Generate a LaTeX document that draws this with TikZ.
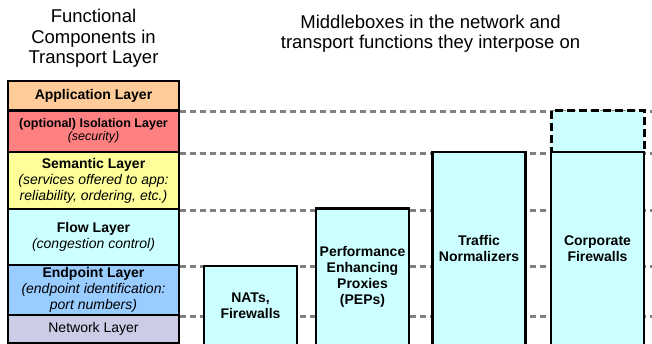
\documentclass[tikz,border=0pt]{standalone}
\usepackage{fontspec}
\setmainfont{Liberation Sans}
\definecolor{appc}{RGB}{255,204,153}
\definecolor{isoc}{RGB}{255,128,128}
\definecolor{semc}{RGB}{255,255,153}
\definecolor{flowc}{RGB}{204,255,255}
\definecolor{endc}{RGB}{153,204,255}
\definecolor{netc}{RGB}{204,204,230}
\definecolor{boxcyan}{RGB}{204,255,255}
\definecolor{guidegray}{RGB}{128,128,128}
\begin{document}
\begin{tikzpicture}[x=1pt,y=-1pt,
  layer/.style={draw=black, line width=2.2pt, minimum width=171pt, inner sep=0pt,
    align=center, font=\fontsize{14}{16}\selectfont},
  mbox/.style={draw=black, line width=2.4pt, fill=boxcyan, minimum width=93pt,
    inner sep=0pt, align=center, font=\bfseries\fontsize{14}{16}\selectfont},
  optbox/.style={draw=black, line width=3pt, dash pattern=on 8pt off 4pt,
    fill=boxcyan, minimum width=93pt, inner sep=0pt},
  guide/.style={draw=guidegray, line width=3pt, dash pattern=on 6pt off 4pt},
  heading/.style={align=center, font=\fontsize{18.5}{20.5}\selectfont}]
\clip (0,0) rectangle (652,343);
\coordinate (rightedge) at (652,0);

% headings
\node[heading] (lefthead) at (93.5,38.7) {Functional\\Components in\\Transport Layer};
\node[heading] (righthead) at (430.5,33.7) {Middleboxes in the network and\\transport functions they interpose on};

% transport layer stack
\node[layer, fill=appc, minimum height=29.5pt] (app) at (93.5,95.75) {\textbf{Application Layer}};
\node[layer, fill=isoc, minimum height=41.5pt, font=\fontsize{12.5}{13}\selectfont] (iso) at (93.5,131.25)
  {\textbf{(optional) Isolation Layer}\\\textit{(security)}};
\node[layer, fill=semc, minimum height=57pt] (sem) at (93.5,180.5)
  {\textbf{Semantic Layer}\\\textit{(services offered to app:}\\\textit{reliability, ordering, etc.)}};
\node[layer, fill=flowc, minimum height=56pt] (flow) at (93.5,237)
  {\textbf{Flow Layer}\\\textit{(congestion control)}};
\node[layer, fill=endc, minimum height=50pt] (endp) at (93.5,290)
  {\textbf{Endpoint Layer}\\\textit{(endpoint identification:}\\\textit{port numbers)}};
\node[layer, fill=netc, minimum height=28pt] (net) at (93.5,329) {Network Layer};

% layer boundaries carried across the figure
\foreach \l in {app,iso,sem,flow,endp}
  \draw[guide] (\l.south east) -- (\l.south east -| rightedge);

% middleboxes
\node[mbox, minimum height=79pt] (nat) at (250.5,305.5) {NATs,\\Firewalls};
\node[mbox, minimum height=136.5pt] (pep) at (362.5,276.75) {Performance\\Enhancing\\Proxies\\(PEPs)};
\node[mbox, minimum height=193pt] (traffic) at (479,248.5) {Traffic\\Normalizers};
\node[optbox, minimum height=41.5pt] (corpiso) at (597.5,131.25) {};
\node[mbox, minimum height=193pt] (corp) at (597.5,248.5) {Corporate\\Firewalls};
\end{tikzpicture}
\end{document}
